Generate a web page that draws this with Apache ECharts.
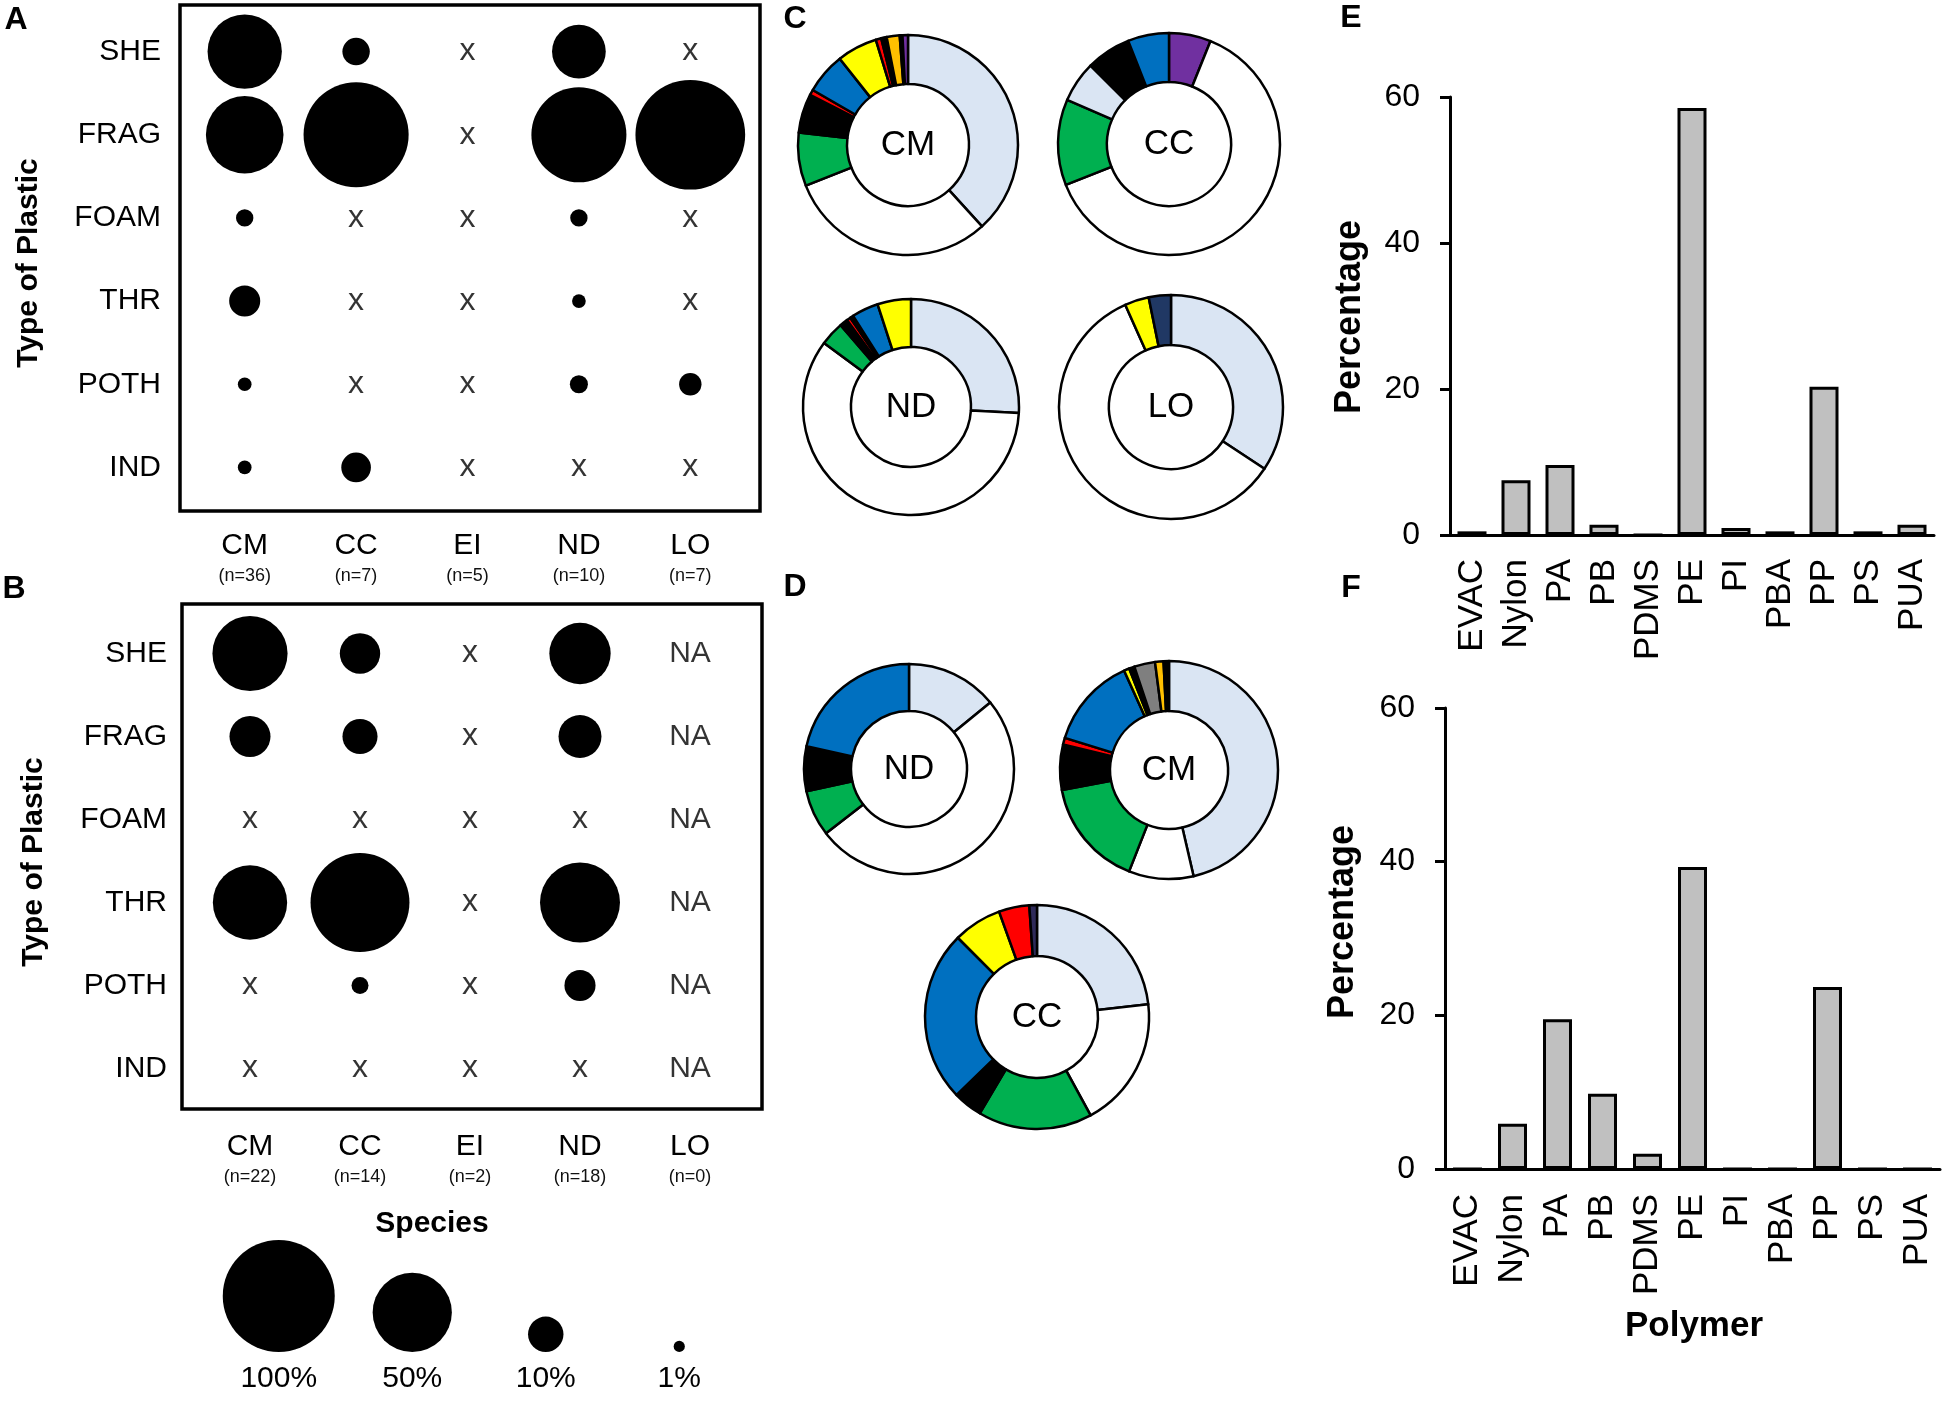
<!DOCTYPE html>
<html>
<head>
<meta charset="utf-8">
<script src="https://cdn.jsdelivr.net/npm/echarts@6/dist/echarts.min.js"></script>
<style>
  html, body { margin: 0; padding: 0; background: #fff; }
  #chart { width: 1950px; height: 1401px; }
</style>
</head>
<body>
<div id="chart"></div>
<script>
// ---------------- DATA ----------------
const plasticTypes = ['SHE', 'FRAG', 'FOAM', 'THR', 'POTH', 'IND'];
const species = ['CM', 'CC', 'EI', 'ND', 'LO'];
const nA = [36, 7, 5, 10, 7];
const nB = [22, 14, 2, 18, 0];

// Panel A: percentage of individuals (0 = none "x")
const A_SHE  = [44, 6, 0, 23, 0];
const A_FRAG = [48, 88, 0, 72, 96];
const A_FOAM = [2.4, 0, 0, 2.4, 0];
const A_THR  = [7.7, 0, 0, 1.5, 0];
const A_POTH = [1.5, 0, 0, 2.6, 4];
const A_IND  = [1.5, 7, 0, 0, 0];

// Panel B: (null = NA)
const B_SHE  = [45, 13, 0, 30, null];
const B_FRAG = [13.4, 9.8, 0, 14.7, null];
const B_FOAM = [0, 0, 0, 0, null];
const B_THR  = [44, 78, 0, 51, null];
const B_POTH = [0, 2.3, 0, 7.7, null];
const B_IND  = [0, 0, 0, 0, null];

// Bubble size legend
const legendPct = [100, 50, 10, 1];
const legendLabels = ['100%', '50%', '10%', '1%'];

// Donut charts (values in %, clockwise from 12 o'clock) and their slice categories
const C_CM_keys = ['LB', 'W', 'G', 'K', 'R', 'B', 'Y', 'R', 'K', 'O', 'K', 'P'];
const C_CM_vals = [38.1, 30.6, 7.8, 5.7, 0.8, 6.0, 5.9, 0.8, 0.8, 1.9, 0.4, 0.8];
const C_CC_keys = ['P', 'W', 'G', 'LB', 'K', 'B'];
const C_CC_vals = [6.1, 62.9, 12.5, 6.0, 6.5, 6.0];
const C_ND_keys = ['LB', 'W', 'G', 'K', 'R', 'K', 'B', 'Y'];
const C_ND_vals = [25.9, 59.2, 3.6, 1.2, 0.6, 0.5, 4.0, 5.0];
const C_LO_keys = ['LB', 'W', 'Y', 'N'];
const C_LO_vals = [34.3, 59.0, 3.5, 3.2];
const D_ND_keys = ['LB', 'W', 'G', 'K', 'B'];
const D_ND_vals = [14.1, 50.4, 7.1, 6.9, 21.5];
const D_CM_keys = ['LB', 'W', 'G', 'K', 'R', 'B', 'Y', 'K', 'GR', 'O', 'K'];
const D_CM_vals = [46.4, 9.6, 16.1, 6.7, 1.0, 13.5, 0.8, 0.8, 3.1, 1.25, 0.8];
const D_CC_keys = ['LB', 'W', 'G', 'K', 'B', 'Y', 'R', 'DP'];
const D_CC_vals = [23.2, 18.9, 16.5, 4.2, 24.8, 7.0, 4.4, 1.1];

// Polymer bar charts
const polymers = ['EVAC', 'Nylon', 'PA', 'PB', 'PDMS', 'PE', 'PI', 'PBA', 'PP', 'PS', 'PUA'];
const E_pct = [0.5, 7.5, 9.6, 1.4, 0, 58.5, 0.95, 0.5, 20.3, 0.5, 1.4];
const F_pct = [0, 5.9, 19.5, 9.8, 2.0, 39.3, 0, 0, 23.7, 0, 0];
const pctTicks = { min: 0, max: 60, interval: 20 };

// ---------------- STYLE ----------------
const FONT = '"Liberation Sans", Arial, Helvetica, sans-serif';
const sliceColors = {
  LB: '#dae5f3', W: '#ffffff', G: '#00b050', K: '#000000', R: '#ff0000',
  B: '#0070c0', Y: '#ffff00', O: '#ffc000', P: '#7030a0', N: '#203864',
  GR: '#7f7f7f', DP: '#2e2a5a'
};
const D100 = 112; // diameter of a 100% bubble
function bubbleSize(p) { return D100 * Math.sqrt(p / 100); }

const matA = [A_SHE, A_FRAG, A_FOAM, A_THR, A_POTH, A_IND];
const matB = [B_SHE, B_FRAG, B_FOAM, B_THR, B_POTH, B_IND];

function bubbleSeries(mat, idx) {
  const bubbles = [], zeros = [], nas = [];
  mat.forEach((row, r) => row.forEach((v, c) => {
    if (v === null) nas.push([c, r]);
    else if (v === 0) zeros.push([c, r]);
    else bubbles.push([c, r, v]);
  }));
  const textMark = (data, txt) => ({
    type: 'scatter', xAxisIndex: idx, yAxisIndex: idx, data: data, silent: true,
    symbolSize: 1, itemStyle: { color: 'rgba(0,0,0,0)' },
    label: { show: true, position: 'inside', formatter: txt, fontSize: txt === 'x' ? 32 : 30,
             color: '#000', fontFamily: FONT }
  });
  return [
    { type: 'scatter', xAxisIndex: idx, yAxisIndex: idx, data: bubbles, silent: true,
      symbolSize: v => bubbleSize(v[2]), itemStyle: { color: '#000', opacity: 1 } },
    textMark(zeros, 'x'),
    textMark(nas, 'NA')
  ];
}

function donut(name, keys, vals, center, radius) {
  return {
    type: 'pie', center: center, radius: radius, startAngle: 90, clockwise: true,
    silent: true, avoidLabelOverlap: false, emphasis: { disabled: true },
    itemStyle: { borderColor: '#000', borderWidth: 2.5 },
    label: { show: false }, labelLine: { show: false },
    data: vals.map((v, i) => ({
      name: name + i, value: v,
      itemStyle: { color: sliceColors[keys[i]] },
      label: i === 0 ? { show: true, position: 'center', formatter: name, fontSize: 35,
                         color: '#000', fontFamily: FONT } : { show: false }
    }))
  };
}

const catX = (gridIndex, nArr) => ({
  type: 'category', gridIndex: gridIndex, data: species,
  axisLine: { show: false }, axisTick: { show: false }, splitLine: { show: false },
  axisLabel: {
    interval: 0, margin: 20,
    formatter: (v, i) => '{a|' + v + '}\n{b|(n=' + nArr[i] + ')}',
    rich: {
      a: { fontSize: 30, lineHeight: 34, color: '#000', fontFamily: FONT },
      b: { fontSize: 18, lineHeight: 26, color: '#111', fontFamily: FONT }
    }
  }
});
const catY = (gridIndex) => ({
  type: 'category', gridIndex: gridIndex, data: plasticTypes, inverse: true,
  axisLine: { show: false }, axisTick: { show: false }, splitLine: { show: false },
  axisLabel: { fontSize: 30, margin: 28, color: '#000', fontFamily: FONT }
});
const barX = (gridIndex, margin) => ({
  type: 'category', gridIndex: gridIndex, data: polymers,
  axisLine: { show: true, lineStyle: { color: '#000', width: 3 } },
  axisTick: { show: false },
  axisLabel: { interval: 0, rotate: 90, fontSize: 35, margin: margin, color: '#000', fontFamily: FONT }
});
const barY = (gridIndex) => ({
  type: 'value', gridIndex: gridIndex, min: pctTicks.min, max: pctTicks.max, interval: pctTicks.interval,
  splitLine: { show: false },
  axisLine: { show: true, lineStyle: { color: '#000', width: 3 } },
  axisTick: { show: true, length: 10, lineStyle: { color: '#000', width: 3 } },
  axisLabel: { fontSize: 32, margin: 30, color: '#000', fontFamily: FONT }
});
const barSeries = (idx, data) => ({
  type: 'bar', xAxisIndex: idx, yAxisIndex: idx, data: data, barWidth: 29, silent: true,
  itemStyle: { color: '#c0c0c0', borderColor: '#000', borderWidth: 3 }
});

function txt(text, x, y, size, bold, rot) {
  return {
    type: 'text', x: x, y: y, rotation: rot ? Math.PI / 2 : 0, silent: true,
    style: { text: text, fill: '#000', fontSize: size, fontWeight: bold ? 'bold' : 'normal',
             fontFamily: FONT, align: 'center', verticalAlign: 'middle',
             textAlign: 'center', textVerticalAlign: 'middle' }
  };
}

const option = {
  animation: false,
  backgroundColor: '#fff',
  textStyle: { fontFamily: FONT },
  grid: [
    { left: 189, top: 10, width: 557, height: 499 },   // A
    { left: 195, top: 612, width: 550, height: 498 },  // B
    { left: 212, top: 1250, width: 534, height: 102 }, // size legend
    { left: 1450, top: 97, width: 484, height: 438 },  // E
    { left: 1445, top: 708, width: 495, height: 461 }  // F
  ],
  xAxis: [
    catX(0, nA), catX(1, nB),
    { type: 'category', gridIndex: 2, data: legendLabels, axisLine: { show: false }, axisTick: { show: false },
      axisLabel: { interval: 0, fontSize: 30, margin: 12, color: '#000', fontFamily: FONT } },
    barX(3, 24), barX(4, 25)
  ],
  yAxis: [
    catY(0), catY(1),
    { type: 'value', gridIndex: 2, min: 0, max: 1, show: false },
    barY(3), barY(4)
  ],
  series: [
    ...bubbleSeries(matA, 0),
    ...bubbleSeries(matB, 1),
    { type: 'scatter', xAxisIndex: 2, yAxisIndex: 2, silent: true,
      data: legendPct.map((p, i) => ({ value: [i, 0, p], symbolOffset: [0, -bubbleSize(p) / 2] })),
      symbolSize: v => bubbleSize(v[2]), itemStyle: { color: '#000', opacity: 1 } },
    donut('CM', C_CM_keys, C_CM_vals, [908, 145], [61, 110]),
    donut('CC', C_CC_keys, C_CC_vals, [1169, 144], [62, 111]),
    donut('ND', C_ND_keys, C_ND_vals, [911, 407], [60, 108]),
    donut('LO', C_LO_keys, C_LO_vals, [1171, 407], [62, 112]),
    donut('ND', D_ND_keys, D_ND_vals, [909, 769], [58, 105]),
    donut('CM', D_CM_keys, D_CM_vals, [1169, 770], [59, 109]),
    donut('CC', D_CC_keys, D_CC_vals, [1037, 1017], [61, 112]),
    barSeries(3, E_pct),
    barSeries(4, F_pct)
  ],
  graphic: [
    { type: 'rect', silent: true, shape: { x: 180, y: 5, width: 580, height: 506 },
      style: { fill: 'none', stroke: '#000', lineWidth: 3.5 } },
    { type: 'rect', silent: true, shape: { x: 182, y: 604, width: 580, height: 505 },
      style: { fill: 'none', stroke: '#000', lineWidth: 3.5 } },
    txt('A', 16, 20, 32, true), txt('B', 14, 589, 32, true),
    txt('C', 795, 19, 32, true), txt('D', 795, 587, 32, true),
    txt('E', 1351, 18, 32, true), txt('F', 1351, 588, 32, true),
    txt('Type of Plastic', 29, 263, 30, true, true),
    txt('Type of Plastic', 34, 862, 30, true, true),
    txt('Species', 432, 1224, 30, true),
    txt('Percentage', 1350, 317, 36, true, true),
    txt('Percentage', 1343, 922, 36, true, true),
    txt('Polymer', 1694, 1326, 35, true)
  ]
};

const chart = echarts.init(document.getElementById('chart'));
chart.setOption(option);
</script>
</body>
</html>
